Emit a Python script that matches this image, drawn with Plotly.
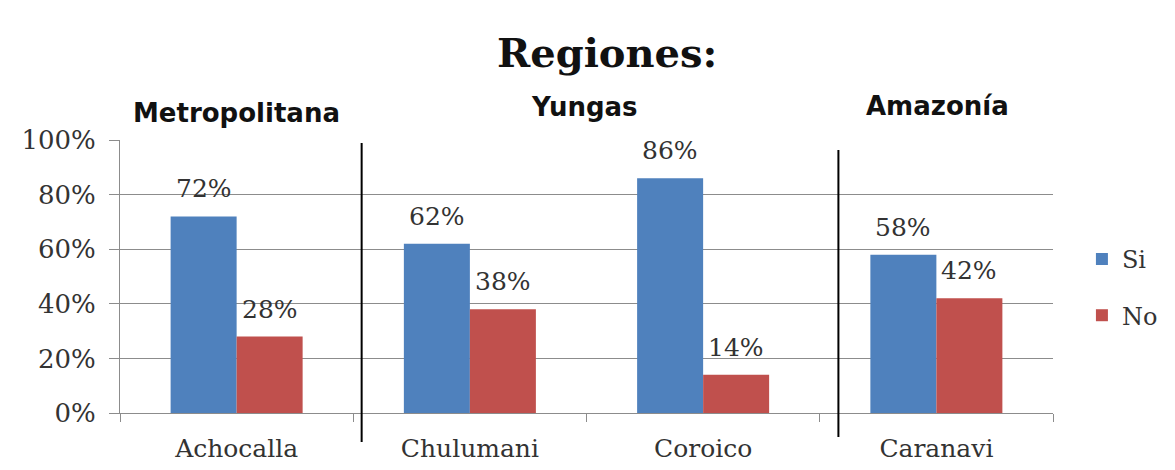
import plotly.graph_objects as go

categories = ["Achocalla", "Chulumani", "Coroico", "Caranavi"]
si_values = [72, 62, 86, 58]
no_values = [28, 38, 14, 42]
series_names = ["Si", "No"]
region_labels = ["Metropolitana", "Yungas", "Amazonía"]
title_text = "Regiones:"
y_ticks = [0, 20, 40, 60, 80, 100]

BLUE = "#4F81BD"
RED = "#C0504D"
GRID = "#8C8C8C"
SERIF = "DejaVu Serif"

fig = go.Figure()
fig.add_trace(go.Bar(x=categories, y=si_values, name=series_names[0],
                     marker=dict(color=BLUE, line=dict(width=0)), legendgroup="a"))
fig.add_trace(go.Bar(x=categories, y=no_values, name=series_names[1],
                     marker=dict(color=RED, line=dict(width=0)), legendgroup="b"))

annotations = []
for vals, shift in ((si_values, -33), (no_values, 33)):
    for c, v in zip(categories, vals):
        annotations.append(dict(x=c, y=v, xref="x", yref="y", text=f"{v}%",
                                showarrow=False, xshift=shift, yshift=11,
                                yanchor="bottom",
                                font=dict(family=SERIF, size=25, color="#333333")))

# title
annotations.append(dict(x=0.522, y=1.322, xref="paper", yref="paper", text=f"<b>{title_text}</b>",
                        showarrow=False, xanchor="center", yanchor="middle",
                        font=dict(family="DejaVu Serif", size=40, color="#111111")))
# region labels
for lab, px, py in zip(region_labels, [0.125, 0.498, 0.876], [1.099, 1.121, 1.125]):
    annotations.append(dict(x=px, y=py, xref="paper", yref="paper", text=f"<b>{lab}</b>",
                            showarrow=False, xanchor="center", yanchor="middle",
                            font=dict(family="DejaVu Sans", size=26, color="#111111")))

shapes = [
    dict(type="line", xref="paper", yref="paper", x0=0.259, x1=0.259, y0=0.989, y1=-0.106,
         line=dict(color="black", width=2)),
    dict(type="line", xref="paper", yref="paper", x0=0.770, x1=0.770, y0=0.963, y1=-0.088,
         line=dict(color="black", width=2)),
]

fig.update_layout(
    width=1167, height=462, autosize=False,
    margin=dict(l=112, r=122, t=132, b=57),
    paper_bgcolor="white", plot_bgcolor="white",
    barmode="group", bargap=0.434, bargroupgap=0,
    annotations=annotations, shapes=shapes,
    showlegend=True,
    legend=dict(x=1.031, y=0.46, xanchor="left", yanchor="middle",
                font=dict(family=SERIF, size=24, color="#333333"),
                tracegroupgap=22, itemwidth=30, bgcolor="rgba(0,0,0,0)"),
    xaxis=dict(type="category", showgrid=False, showline=True, linecolor=GRID, linewidth=1,
               ticks="outside", tickson="boundaries", ticklen=8, tickcolor=GRID,
               ticklabelstandoff=13, automargin=False,
               tickfont=dict(family=SERIF, size=25, color="#333333")),
    yaxis=dict(range=[0, 100], tickvals=y_ticks, ticktext=[f"{t}%" for t in y_ticks],
               showgrid=True, gridcolor=GRID, gridwidth=1, showline=True, linecolor=GRID,
               ticks="outside", ticklen=10, tickcolor=GRID, zeroline=False,
               ticklabelstandoff=8, automargin=False,
               tickfont=dict(family=SERIF, size=26, color="#333333")),
)

fig.write_html("out.html")
